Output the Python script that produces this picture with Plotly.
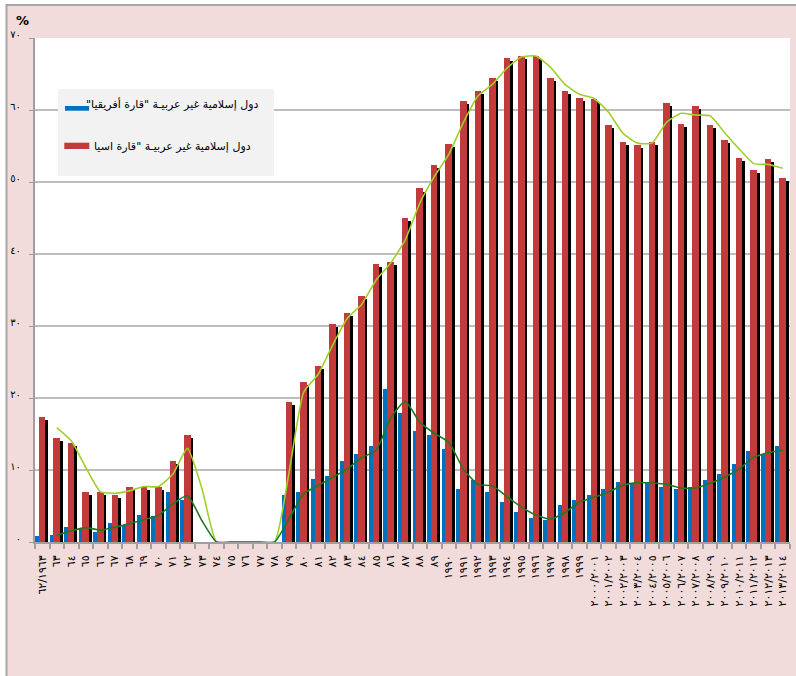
import plotly.graph_objects as go

# ---------------- data ----------------
categories = [
    "٦٢/١٩٦٣", "٦٣", "٦٤", "٦٥", "٦٦", "٦٧", "٦٨", "٦٩", "٧٠", "٧١", "٧٢", "٧٣", "٧٤", "٧٥",
    "٧٦", "٧٧", "٧٨", "٧٩", "٨٠", "٨١", "٨٢", "٨٣", "٨٤", "٨٥", "٨٦", "٨٧", "٨٨", "٨٩",
    "١٩٩٠", "١٩٩١", "١٩٩٢", "١٩٩٣", "١٩٩٤", "١٩٩٥", "١٩٩٦", "١٩٩٧", "١٩٩٨", "١٩٩٩",
    "٢٠٠٠/٢٠٠١", "٢٠٠١/٢٠٠٢", "٢٠٠٢/٢٠٠٣", "٢٠٠٣/٢٠٠٤", "٢٠٠٤/٢٠٠٥", "٢٠٠٥/٢٠٠٦",
    "٢٠٠٦/٢٠٠٧", "٢٠٠٧/٢٠٠٨", "٢٠٠٨/٢٠٠٩", "٢٠٠٩/٢٠١٠", "٢٠١٠/٢٠١١", "٢٠١١/٢٠١٢",
    "٢٠١٢/٢٠١٣", "٢٠١٣/٢٠١٤",
]

africa = [
    0.9, 1.0, 2.1, 1.9, 1.4, 2.7, 2.4, 3.8, 3.6, 7.0, 5.9,
    0, 0, 0, 0, 0, 0,
    6.5, 6.9, 8.8, 9.1, 11.2, 12.2, 13.3, 21.2, 17.9, 15.4, 14.8, 12.9,
    7.4, 8.6, 7.0, 5.6, 4.1, 3.4, 3.0, 5.2, 5.9, 6.5, 7.4, 8.4, 8.1, 8.3,
    7.7, 7.3, 7.7, 8.6, 9.4, 10.9, 12.6, 12.2, 13.3,
]

asia = [
    17.4, 14.4, 13.7, 7.0, 7.0, 6.5, 7.7, 7.7, 7.7, 11.2, 14.8,
    0, 0, 0, 0, 0, 0,
    19.4, 22.2, 24.4, 30.3, 31.8, 34.2, 38.6, 38.9, 45.0, 49.1, 52.4, 55.3,
    61.2, 62.7, 64.4, 67.2, 67.5, 67.5, 64.4, 62.7, 61.7, 61.5, 57.9, 55.6,
    55.2, 55.6, 61.0, 58.1, 60.5, 57.9, 55.8, 53.4, 51.7, 53.2, 50.6,
]

y_tickvals = [0, 10, 20, 30, 40, 50, 60, 70]
y_ticktext = ["٠", "١٠", "٢٠", "٣٠", "٤٠", "٥٠", "٦٠", "٧٠"]

name_africa = "دول إسلامية غير عربيـة \"قارة أفريقيا\"\u200f"
name_asia = "دول إسلامية غير عربيـة \"قارة اسيا"

# 2-period moving-average trend lines (as in the source chart)
def moving_avg(vals):
    return [(vals[i - 1] + vals[i]) / 2 for i in range(1, len(vals))]

ma_africa = moving_avg(africa)
ma_asia = moving_avg(asia)

# ---------------- styling ----------------
BLUE = "#0070c0"
RED = "#c23a39"
LIGHT_GREEN = "#9fcf2a"
DARK_GREEN = "#1f7a1f"
PINK = "#f2dcdb"
GRID = "#bdbdbd"
FONT = "DejaVu Sans"

W, H = 796, 676
ML, MR, MT, MB = 35, 6, 38, 134
PW, PH = W - ML - MR, H - MT - MB


def px(x):
    return (x - ML) / PW


def py(y):
    return (H - MB - y) / PH


fig = go.Figure()

fig.add_trace(go.Bar(
    x=categories, y=africa, marker=dict(color=BLUE, line=dict(width=0)),
    offset=-0.5, width=0.27, name=name_africa, showlegend=False,
))
# shadow behind the Asia bars
fig.add_trace(go.Bar(
    x=categories, y=asia, base=-0.42, marker=dict(color="#000000", line=dict(width=0)),
    offset=-0.05, width=0.45, showlegend=False, hoverinfo="skip",
))
fig.add_trace(go.Bar(
    x=categories, y=asia, marker=dict(color=RED, line=dict(width=0)),
    offset=-0.23, width=0.45, name=name_asia, showlegend=False,
))
fig.add_trace(go.Scatter(
    x=categories[1:], y=ma_asia, mode="lines",
    line=dict(color=LIGHT_GREEN, width=1.6, shape="spline", smoothing=0.5),
    showlegend=False,
))
fig.add_trace(go.Scatter(
    x=categories[1:], y=ma_africa, mode="lines",
    line=dict(color=DARK_GREEN, width=1.6, shape="spline", smoothing=0.5),
    showlegend=False,
))

shapes = [
    # white strips outside the chart-area border
    dict(type="rect", xref="paper", yref="paper", x0=px(-5), x1=px(W + 5), y0=py(5), y1=py(-5),
         fillcolor="white", line=dict(width=0), layer="above"),
    dict(type="rect", xref="paper", yref="paper", x0=px(-5), x1=px(6), y0=py(H + 5), y1=py(-5),
         fillcolor="white", line=dict(width=0), layer="above"),
    # chart-area border
    dict(type="rect", xref="paper", yref="paper", x0=px(6.5), x1=px(W + 10), y0=py(H + 10), y1=py(5),
         fillcolor="rgba(0,0,0,0)", line=dict(color="#a6a6a6", width=2), layer="above"),
    # legend box
    dict(type="rect", xref="paper", yref="paper", x0=px(58), x1=px(274), y0=py(176), y1=py(89),
         fillcolor="#f2f2f2", line=dict(width=0), layer="above"),
    dict(type="rect", xref="paper", yref="paper", x0=px(65), x1=px(89), y0=py(110.7), y1=py(106),
         fillcolor=BLUE, line=dict(width=0), layer="above"),
    dict(type="rect", xref="paper", yref="paper", x0=px(64.3), x1=px(89.3), y0=py(149), y1=py(142.7),
         fillcolor=RED, line=dict(width=0), layer="above"),
]

annotations = [
    dict(text=name_africa, xref="paper", yref="paper", x=px(260), y=py(104),
         xanchor="right", yanchor="middle", showarrow=False,
         font=dict(family=FONT, size=11, color="#000000")),
    dict(text=name_asia, xref="paper", yref="paper", x=px(253), y=py(146),
         xanchor="right", yanchor="middle", showarrow=False,
         font=dict(family=FONT, size=11, color="#000000")),
    dict(text="<b>%</b>", xref="paper", yref="paper", x=px(22.5), y=py(20.5),
         xanchor="center", yanchor="middle", showarrow=False,
         font=dict(family=FONT, size=13, color="#000000")),
]

fig.update_layout(
    width=W, height=H,
    margin=dict(l=ML, r=MR, t=MT, b=MB, pad=0),
    paper_bgcolor=PINK, plot_bgcolor="white",
    barmode="overlay", bargap=0,
    showlegend=False,
    shapes=shapes, annotations=annotations,
    font=dict(family=FONT, color="#000000"),
)

fig.update_xaxes(
    type="category", range=[-0.5, len(categories) - 0.5],
    showgrid=False, showline=True, linecolor="#a0a0a0", linewidth=2,
    ticks="outside", ticklen=5, tickcolor="#a0a0a0", tickwidth=1.5,
    tickson="boundaries", tickangle=-90, ticklabelstandoff=7,
    tickfont=dict(family=FONT, size=11, color="#000000"),
)
fig.update_yaxes(
    range=[0, 70], tickvals=y_tickvals, ticktext=y_ticktext,
    showgrid=True, gridcolor=GRID, gridwidth=2,
    showline=True, linecolor="#a0a0a0", linewidth=2,
    ticks="outside", ticklen=4, tickcolor="#a0a0a0",
    ticklabelstandoff=6, ticklabelshift=-4, zeroline=False,
    tickfont=dict(family=FONT, size=10, color="#000000"),
)

post = """
document.body.style.margin='0px';
document.body.style.overflow='hidden';
var gd = document.getElementById('{plot_id}');
function spaceTicks(){
  gd.querySelectorAll('.xtick text').forEach(function(t){ t.setAttribute('letter-spacing','3.5px'); });
}
spaceTicks();
gd.on('plotly_afterplot', spaceTicks);
"""

fig.write_html("out.html", config={"displayModeBar": False}, post_script=post)
